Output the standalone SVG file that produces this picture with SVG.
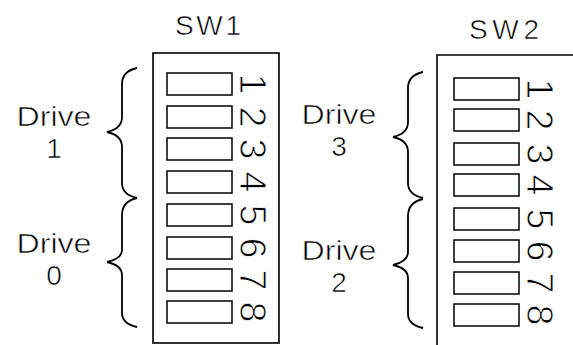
<svg xmlns="http://www.w3.org/2000/svg" width="573" height="345" viewBox="0 0 573 345">
<style>
.bg{fill:#fff}
.ln{fill:none;stroke:#000;stroke-width:1.6}
.sw{fill:#fff;stroke:#000;stroke-width:1.5}
.br{fill:none;stroke:#000;stroke-width:1.8;stroke-linejoin:miter}
.t{font-family:"Liberation Sans",Arial,sans-serif;font-size:28px;fill:#000;text-anchor:middle;stroke:#fff;stroke-width:0.6}
.d{font-family:"Liberation Sans",Arial,sans-serif;font-size:37px;fill:#000;text-anchor:middle;stroke:#fff;stroke-width:0.9}
</style>
<rect class="bg" x="0" y="0" width="573" height="345"/>
<g id="sw1">
<text class="t" x="208" y="35" textLength="66" lengthAdjust="spacing">SW1</text>
<rect class="ln" x="153" y="53" width="126" height="290"/>
<rect class="sw" x="167" y="73" width="65" height="22"/>
<rect class="sw" x="167" y="106" width="65" height="22"/>
<rect class="sw" x="167" y="138" width="65" height="22"/>
<rect class="sw" x="167" y="171" width="65" height="22"/>
<rect class="sw" x="167" y="204" width="65" height="22"/>
<rect class="sw" x="167" y="237" width="65" height="22"/>
<rect class="sw" x="167" y="269" width="65" height="22"/>
<rect class="sw" x="167" y="301" width="65" height="22"/>
<g class="d">
<text transform="translate(253,84) rotate(90)" y="13">1</text>
<text transform="translate(253,117) rotate(90)" y="13">2</text>
<text transform="translate(253,149) rotate(90)" y="13">3</text>
<text transform="translate(253,182) rotate(90)" y="13">4</text>
<text transform="translate(253,215) rotate(90)" y="13">5</text>
<text transform="translate(253,248) rotate(90)" y="13">6</text>
<text transform="translate(253,280) rotate(90)" y="13">7</text>
<text transform="translate(253,312) rotate(90)" y="13">8</text>
</g>
</g>
<g id="sw2">
<text class="t" x="504" y="39" textLength="70" lengthAdjust="spacing">SW2</text>
<path class="ln" d="M437,345 L437,55 L573,55"/>
<rect class="sw" x="454" y="78" width="65" height="22"/>
<rect class="sw" x="454" y="109" width="65" height="22"/>
<rect class="sw" x="454" y="143" width="65" height="22"/>
<rect class="sw" x="454" y="174" width="65" height="22"/>
<rect class="sw" x="454" y="208" width="65" height="22"/>
<rect class="sw" x="454" y="240" width="65" height="22"/>
<rect class="sw" x="454" y="272" width="65" height="22"/>
<rect class="sw" x="454" y="304" width="65" height="22"/>
<g class="d">
<text transform="translate(540,89) rotate(90)" y="13">1</text>
<text transform="translate(540,120) rotate(90)" y="13">2</text>
<text transform="translate(540,154) rotate(90)" y="13">3</text>
<text transform="translate(540,185) rotate(90)" y="13">4</text>
<text transform="translate(540,219) rotate(90)" y="13">5</text>
<text transform="translate(540,251) rotate(90)" y="13">6</text>
<text transform="translate(540,283) rotate(90)" y="13">7</text>
<text transform="translate(540,315) rotate(90)" y="13">8</text>
</g>
</g>
<g id="drive1">
<text class="t" x="54" y="126" textLength="75" lengthAdjust="spacingAndGlyphs">Drive</text>
<text class="t" x="54" y="158">1</text>
</g>
<g id="drive0">
<text class="t" x="54" y="253" textLength="75" lengthAdjust="spacingAndGlyphs">Drive</text>
<text class="t" x="54" y="285">0</text>
</g>
<g id="drive3">
<text class="t" x="339" y="124" textLength="75" lengthAdjust="spacingAndGlyphs">Drive</text>
<text class="t" x="339" y="156">3</text>
</g>
<g id="drive2">
<text class="t" x="339" y="260" textLength="75" lengthAdjust="spacingAndGlyphs">Drive</text>
<text class="t" x="339" y="292">2</text>
</g>
<g id="connectors">
<path class="br" d="M137,68 C128,70 122,74 122,84 L122,117 C122,126 116,130 107,132 C116,134 122,138 122,147 L122,183 C122,192 128,196 137,198"/>
<path class="br" d="M137,198 C128,200 122,205 122,215 L122,250 C122,257 116,260 107,262 C116,264 122,268 122,275 L122,313 C122,321 128,325 137,327"/>
<path class="br" d="M423,72 C414,74 408,78 408,88 L408,122 C408,131 402,135 393,137 C402,139 408,143 408,152 L408,183 C408,192 414,196 423,198"/>
<path class="br" d="M423,199 C414,201 408,206 408,216 L408,252 C408,259 402,263 393,265 C402,267 408,271 408,278 L408,314 C408,322 414,326 423,328"/>
</g>
</svg>
